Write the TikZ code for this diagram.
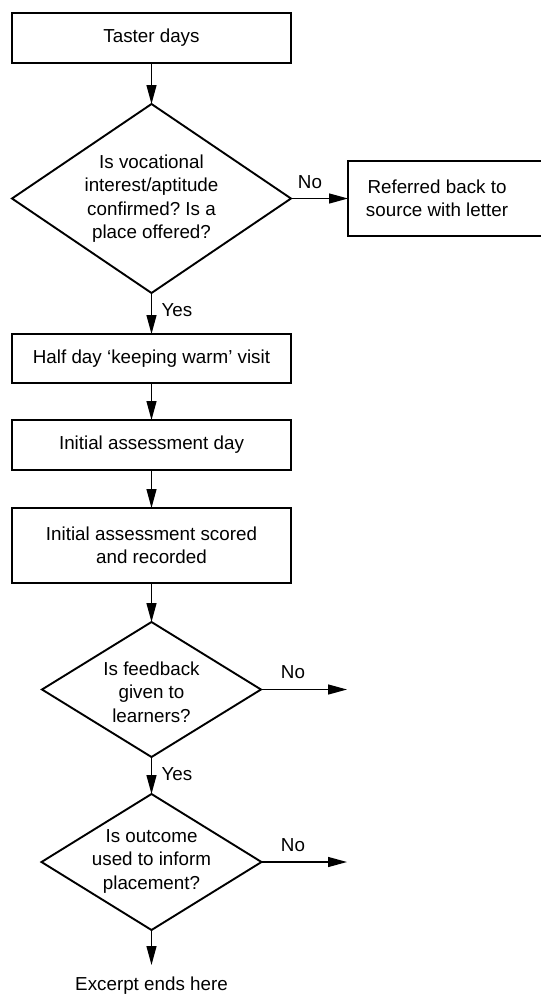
\documentclass[tikz,border=0pt]{standalone}
\usepackage{fontspec}
\setmainfont{Liberation Sans}
\usetikzlibrary{shapes.geometric,arrows.meta}
\frenchspacing

\tikzset{
  stepbox/.style={draw, line width=1.9pt, rectangle, inner sep=0pt, outer sep=0pt,
                  minimum width=279pt, align=center},
  decision/.style={draw, line width=1.9pt, diamond, inner sep=0pt, outer sep=0pt},
  caption/.style={inner sep=0pt, align=center},
  flow/.style={line width=1.3pt, -{Triangle[length=19pt,width=10pt]}},
}

\begin{document}
\begin{tikzpicture}[x=1pt, y=-1pt, font=\fontsize{18.8}{23.5}\selectfont]
  \clip (0,0) rectangle (541,994);
  \useasboundingbox (0,0) rectangle (541,994);

  % main column of steps
  \node[stepbox, minimum height=50pt] (taster) at (151.5,38) {Taster days};

  \node[decision, minimum width=279pt, minimum height=189pt] (d1) at (151.5,198.5) {};
  \node[caption] at (151.5,198.5) {Is vocational\\interest/aptitude\\confirmed? Is a\\place offered?};

  \node[stepbox, minimum width=212pt, minimum height=75pt] (referred) at (454,198.5) {};
  \node[caption] at (437,198.5) {Referred back to\\source with letter};

  \node[stepbox, minimum height=49pt] (half) at (151.5,358.5) {Half day ‘keeping warm’ visit};
  \node[stepbox, minimum height=50pt] (iad) at (151.5,445) {Initial assessment day};
  \node[stepbox, minimum height=75pt] (scored) at (151.5,545.5) {Initial assessment scored\\and recorded};

  \node[decision, minimum width=219pt, minimum height=135pt] (d2) at (151.5,689.5) {};
  \node[caption] at (151.5,692) {Is feedback\\given to\\learners?};

  \node[decision, minimum width=220pt, minimum height=136pt] (d3) at (151.5,862) {};
  \node[caption] at (151.5,861) {Is outcome\\used to inform\\placement?};

  \node[caption] (excerpt) at (151.5,986) {Excerpt ends here};

  % loose ends of the "No" branches
  \coordinate (no2) at (347,689.5);
  \coordinate (no3) at (347,862);
  \coordinate (stop) at (151.5,965);

  % connectors
  \draw[flow] (taster) -- (d1.north);
  \draw[flow] (d1.east) -- (referred.west);
  \draw[flow] (d1.south) -- (half.north);
  \draw[flow] (half) -- (iad);
  \draw[flow] (iad) -- (scored);
  \draw[flow] (scored) -- (d2.north);
  \draw[flow] (d2.east) -- (no2);
  \draw[flow] (d2.south) -- (d3.north);
  \draw[flow] (d3.east) -- (no3);
  \draw[flow] (d3.south) -- (stop);

  % branch labels
  \node[caption] at (310,182) {No};
  \node[caption] at (177,310) {Yes};
  \node[caption] at (293,672) {No};
  \node[caption] at (177,774) {Yes};
  \node[caption] at (293,845) {No};
\end{tikzpicture}
\end{document}
